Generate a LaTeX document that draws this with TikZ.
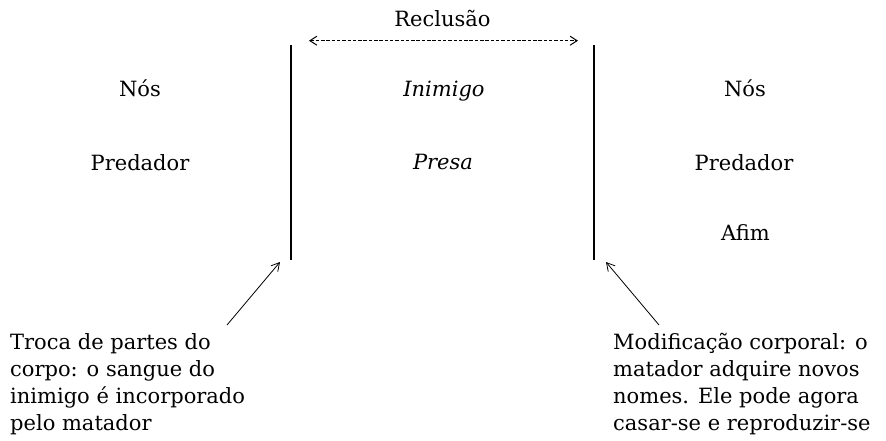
\documentclass[tikz,border=0pt]{standalone}
\usepackage{fontspec}
\setmainfont{DejaVu Serif}
\usetikzlibrary{arrows.meta}
\begin{document}
\begin{tikzpicture}[x=1pt,y=-1pt,
  lbl/.style={font=\fontsize{21}{27}\selectfont, inner sep=0pt, anchor=base},
  blk/.style={lbl, align=left, anchor=base west},
  bar/.style={line width=1.8pt},
  ptr/.style={line width=0.8pt, -{Straight Barb[length=8pt,width=9pt]}}
]
\useasboundingbox (0,0) rectangle (886,440);
\node[lbl] (recl) at (442.5,26) {Reclusão};
\node[lbl] (nos1) at (140,96) {Nós};
\node[lbl] (pred1) at (140,170) {Predador};
\node[lbl] (inim) at (444,96.5) {\itshape Inimigo};
\node[lbl] (presa) at (443,169.5) {\itshape Presa};
\node[lbl] (nos2) at (745,96) {Nós};
\node[lbl] (pred2) at (744,170) {Predador};
\node[lbl] (afim) at (745.5,240) {Afim};
\coordinate (lt) at (291,45);
\coordinate (lb) at (291,260);
\coordinate (rt) at (594,45);
\coordinate (rb) at (594,260);
\draw[bar] (lt) -- (lb);
\draw[bar] (rt) -- (rb);
\coordinate (da) at (309,40.7);
\coordinate (db) at (578,40.7);
\draw[line width=1pt, dash pattern=on 3.5pt off 1.8pt, {Straight Barb[length=7pt,width=9pt]}-{Straight Barb[length=7pt,width=9pt]}] (da) -- (db);
\node[blk] (tl) at (10,430.5) {Troca de partes do\\corpo: o sangue do\\inimigo é incorporado\\pelo matador};
\node[blk] (tr) at (613,430.5) {Modificação corporal: o\\matador adquire novos\\nomes. Ele pode agora\\casar-se e reproduzir-se};
\coordinate (al) at (227,325);
\coordinate (alh) at (280,262);
\coordinate (ar) at (659,325);
\coordinate (arh) at (606,262);
\draw[ptr] (al) -- (alh);
\draw[ptr] (ar) -- (arh);
\end{tikzpicture}
\end{document}
